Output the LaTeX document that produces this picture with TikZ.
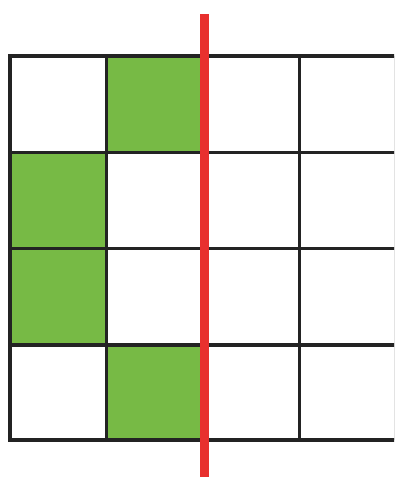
\documentclass[tikz,border=0pt]{standalone}
\begin{document}
\begin{tikzpicture}[x=1pt,y=-1pt,
  cellfill/.style={fill=cellgreen},
  gridline/.style={draw=gridgray,line width=3.6pt},
  cutline/.style={draw=cutred,line width=9pt}]
\definecolor{cellgreen}{RGB}{119,186,69}
\definecolor{gridgray}{RGB}{35,35,35}
\definecolor{cutred}{RGB}{232,48,46}
\useasboundingbox (0,0) rectangle (394,477);
\clip (0,0) rectangle (394,477);
\fill[white] (0,0) rectangle (394,477);
% green cells
\fill[cellfill] (106.5,56) rectangle (203,152.5);
\fill[cellfill] (10,152.5) rectangle (106.5,248.5);
\fill[cellfill] (10,248.5) rectangle (106.5,345);
\fill[cellfill] (106.5,345) rectangle (203,440);
% grid
\foreach \x in {10,106.5,203,299.5,396} \draw[gridline] (\x,56) -- (\x,440);
\foreach \y in {56,152.5,248.5,345,440} \draw[gridline] (8.2,\y) -- (397.8,\y);
% red line
\coordinate (ctop) at (204,14);
\coordinate (cbot) at (204,480);
\draw[cutline] (ctop) -- (cbot);
\end{tikzpicture}
\end{document}
